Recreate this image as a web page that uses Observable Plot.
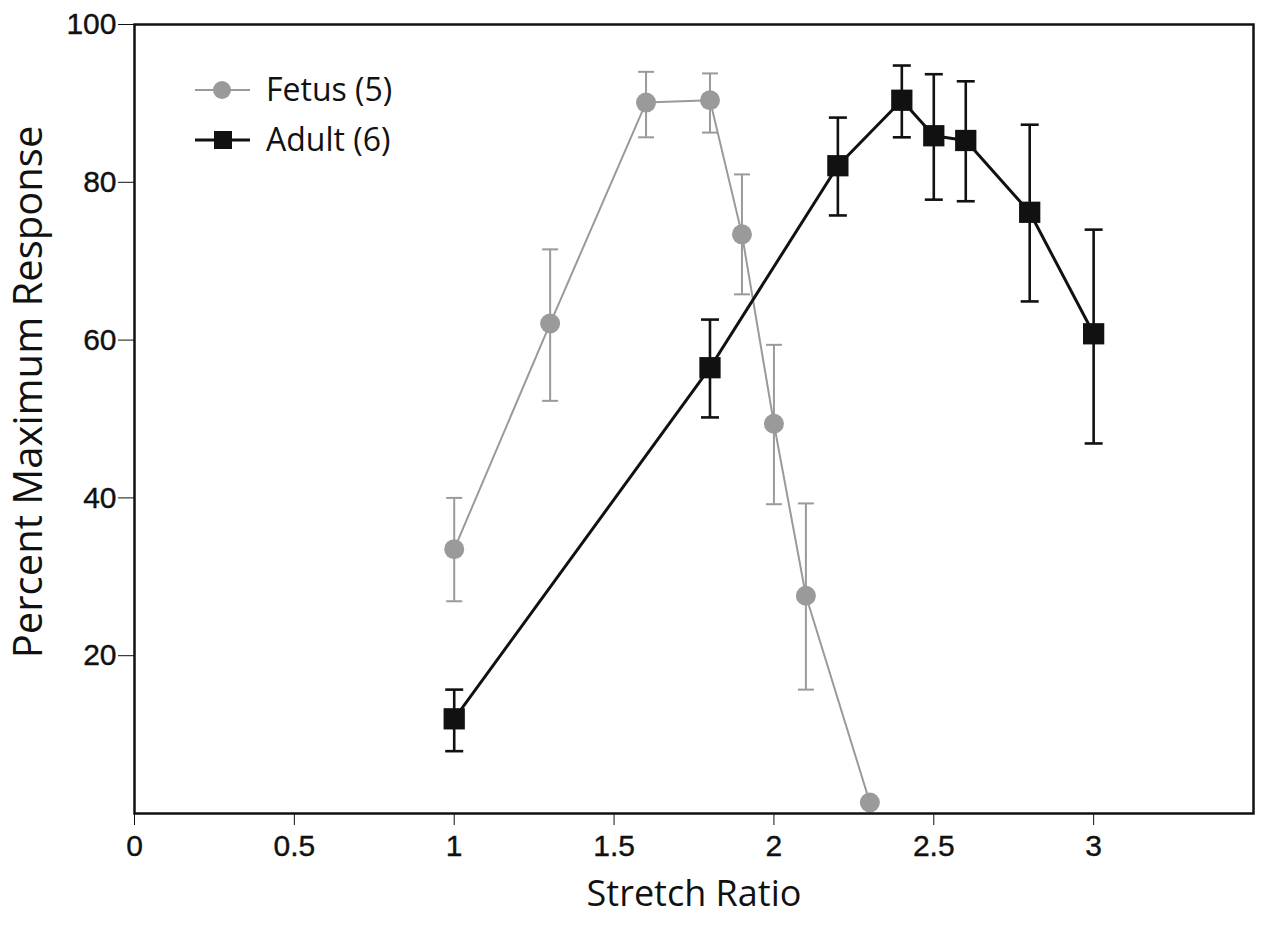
<!DOCTYPE html>
<html>
<head>
<meta charset="utf-8">
<script src="https://cdn.jsdelivr.net/npm/d3@7"></script>
<script src="https://cdn.jsdelivr.net/npm/@observablehq/plot@0.6"></script>
<style>
  html, body { margin: 0; padding: 0; background: #ffffff; }
  #wrap { position: relative; width: 1265px; height: 926px; }
  #legend { position: absolute; left: 0; top: 0; pointer-events: none; }
  #wrap [aria-label^="x-axis"] text, #wrap [aria-label^="y-axis"] text {
    font-size: 30px; font-family: "Liberation Sans", Arial, sans-serif; fill: #111;
    stroke: #111; stroke-width: 0.4px;
  }
</style>
</head>
<body>
<div id="wrap"></div>
<script>
// ---- data ----
const fetusX  = [1.0, 1.3, 1.6, 1.8, 1.9, 2.0, 2.1, 2.3];
const fetusY  = [33.5, 62.1, 90.1, 90.4, 73.4, 49.4, 27.6, 1.4];
const fetusHi = [40.0, 71.5, 94.0, 93.8, 81.0, 59.4, 39.3, null];
const fetusLo = [26.9, 52.3, 85.7, 86.3, 65.8, 39.2, 15.7, null];

const adultX  = [1.0, 1.8, 2.2, 2.4, 2.5, 2.6, 2.8, 3.0];
const adultY  = [12.0, 56.5, 82.1, 90.4, 85.9, 85.3, 76.2, 60.8];
const adultHi = [15.7, 62.6, 88.2, 94.8, 93.7, 92.8, 87.3, 74.0];
const adultLo = [7.9, 50.2, 75.8, 85.7, 77.8, 77.6, 64.9, 46.9];

const xTicks = [0, 0.5, 1, 1.5, 2, 2.5, 3];
const yTicks = [20, 40, 60, 80, 100];
const seriesNames = ["Fetus (5)", "Adult (6)"];
const xTitle = "Stretch Ratio";
const yTitle = "Percent Maximum Response";

// ---- tables ----
const fetus = fetusX.map((x, i) => ({x, y: fetusY[i], hi: fetusHi[i], lo: fetusLo[i]}));
const adult = adultX.map((x, i) => ({x, y: adultY[i], hi: adultHi[i], lo: adultLo[i]}));
const fetusErr = fetus.filter(d => d.hi != null);
const adultErr = adult.filter(d => d.hi != null);

const gray = "#9a9a9a";
const black = "#111111";
const titleFont = "Open Sans";

// horizontal cap symbol
const capSymbol = {
  draw(ctx, size) {
    const w = Math.sqrt(size / Math.PI);
    ctx.moveTo(-w, 0);
    ctx.lineTo(w, 0);
  }
};

const chart = Plot.plot({
  width: 1265,
  height: 926,
  marginLeft: 134,
  marginRight: 12,
  marginTop: 24,
  marginBottom: 113,
  style: {fontFamily: "Liberation Sans, Arial, sans-serif", fontSize: "30px", color: "#111", background: "transparent"},
  x: {domain: [0, 3.5], ticks: xTicks, tickFormat: d => String(d), tickSize: 12, tickPadding: 9, label: null},
  y: {domain: [0, 100], ticks: yTicks, tickFormat: d => String(d), tickSize: 16, tickPadding: 2, label: null},
  marks: [
    // fetus
    Plot.ruleX(fetusErr, {x: "x", y1: "lo", y2: "hi", stroke: gray, strokeWidth: 2}),
    Plot.dot(fetusErr, {x: "x", y: "hi", symbol: capSymbol, r: 8, stroke: gray, strokeWidth: 2, fill: "none"}),
    Plot.dot(fetusErr, {x: "x", y: "lo", symbol: capSymbol, r: 8, stroke: gray, strokeWidth: 2, fill: "none"}),
    Plot.line(fetus, {x: "x", y: "y", stroke: gray, strokeWidth: 2}),
    Plot.dot(fetus, {x: "x", y: "y", r: 10, fill: gray, stroke: "none"}),
    // adult
    Plot.ruleX(adultErr, {x: "x", y1: "lo", y2: "hi", stroke: black, strokeWidth: 2.6}),
    Plot.dot(adultErr, {x: "x", y: "hi", symbol: capSymbol, r: 9, stroke: black, strokeWidth: 2.6, fill: "none"}),
    Plot.dot(adultErr, {x: "x", y: "lo", symbol: capSymbol, r: 9, stroke: black, strokeWidth: 2.6, fill: "none"}),
    Plot.line(adult, {x: "x", y: "y", stroke: black, strokeWidth: 3}),
    Plot.dot(adult, {x: "x", y: "y", symbol: "square", r: 12, fill: black, stroke: "none"}),
    // frame
    Plot.frame({stroke: black, strokeWidth: 2.5}),
    // axis titles
    Plot.text([xTitle], {frameAnchor: "bottom", text: d => d, dy: 92, fontSize: 36, fontFamily: titleFont, fill: black}),
    Plot.text([yTitle], {frameAnchor: "left", text: d => d, rotate: -90, textAnchor: "middle", dx: -105, dy: -27, fontSize: 40, fontFamily: titleFont, fill: black})
  ]
});

const wrap = document.getElementById("wrap");
wrap.appendChild(chart);

// ---- legend overlay ----
const leg = d3.select(wrap).append("svg")
  .attr("id", "legend")
  .attr("width", 1265).attr("height", 926);

const items = [
  {name: seriesNames[0], color: gray, lw: 2, sym: "circle", y: 90},
  {name: seriesNames[1], color: black, lw: 3, sym: "square", y: 140}
];
items.forEach(it => {
  const g = leg.append("g");
  g.append("line").attr("x1", 195).attr("x2", 250).attr("y1", it.y).attr("y2", it.y)
    .attr("stroke", it.color).attr("stroke-width", it.lw);
  if (it.sym === "circle") {
    g.append("circle").attr("cx", 222).attr("cy", it.y).attr("r", 9).attr("fill", it.color);
  } else {
    g.append("rect").attr("x", 214).attr("y", it.y - 9).attr("width", 18).attr("height", 18).attr("fill", it.color);
  }
  g.append("text").attr("x", 266).attr("y", it.y).attr("dy", "0.35em")
    .attr("font-family", titleFont).attr("font-size", 32).attr("fill", black)
    .text(it.name);
});
</script>
</body>
</html>
